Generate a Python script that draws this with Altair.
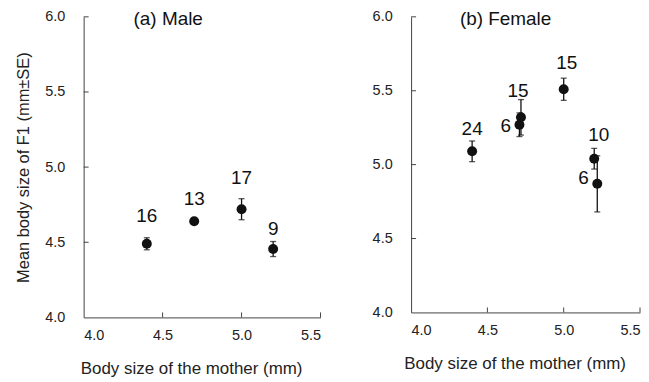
import altair as alt
import pandas as pd

# Male panel data
male_x = [4.4, 4.7, 5.0, 5.2]
male_mean = [4.49, 4.64, 4.72, 4.455]
male_se = [0.04, 0.02, 0.07, 0.05]
male_n = ["16", "13", "17", "9"]
male_lab_x = [4.4, 4.7, 5.0, 5.2]
male_lab_y = [4.675, 4.786, 4.93, 4.59]

# Female panel data
female_x = [4.4, 4.72, 4.71, 5.0, 5.2, 5.22]
female_mean = [5.09, 5.32, 5.27, 5.51, 5.04, 4.87]
female_se = [0.07, 0.12, 0.08, 0.075, 0.07, 0.19]
female_n = ["24", "15", "6", "15", "10", "6"]
female_lab_x = [4.40, 4.70, 4.62, 5.02, 5.23, 5.13]
female_lab_y = [5.24, 5.50, 5.26, 5.69, 5.20, 4.91]

x_ticks = [4.0, 4.5, 5.0, 5.5]
y_ticks = [4.0, 4.5, 5.0, 5.5, 6.0]

FONT = "Liberation Sans"
AX = "#444"


def panel(xs, means, ses, ns, lx, ly, title, tfrac, w, h, show_ytitle):
    df = pd.DataFrame({"x": xs, "m": means, "se": ses})
    df["lo"] = df["m"] - df["se"]
    df["hi"] = df["m"] + df["se"]
    lab = pd.DataFrame({"x": lx, "y": ly, "t": ns})

    xsc = alt.Scale(domain=[4.0, 5.5], nice=False, zero=False)
    ysc = alt.Scale(domain=[4.0, 6.0], nice=False, zero=False)
    xax = alt.Axis(values=x_ticks, format=".1f", tickSize=0, labelPadding=11,
                   title="Body size of the mother (mm)", titlePadding=19,
                   titleX=w / 2 - 11,
                   grid=False, domainColor=AX, labelColor="#222",
                   titleColor="#222", labelFontSize=14.5, titleFontSize=17,
                   titleFontWeight="normal", labelFont=FONT, titleFont=FONT)
    yax = alt.Axis(values=y_ticks, format=".1f", tickSize=0, labelPadding=19,
                   title="Mean body size of F1 (mm±SE)" if show_ytitle else None,
                   titlePadding=13, grid=False, domainColor=AX,
                   labelColor="#222", titleColor="#222", labelFontSize=14.5,
                   titleFontSize=16.5, titleFontWeight="normal",
                   labelFont=FONT, titleFont=FONT)

    base = alt.Chart(df)
    bars = base.mark_rule(color="#111", strokeWidth=1.3).encode(
        x=alt.X("x:Q", scale=xsc, axis=xax),
        y=alt.Y("lo:Q", scale=ysc, axis=yax),
        y2="hi:Q",
    )
    cap_lo = base.mark_tick(color="#111", orient="horizontal", size=6,
                            thickness=1.3).encode(
        x=alt.X("x:Q", scale=xsc), y=alt.Y("lo:Q", scale=ysc))
    cap_hi = base.mark_tick(color="#111", orient="horizontal", size=6,
                            thickness=1.3).encode(
        x=alt.X("x:Q", scale=xsc), y=alt.Y("hi:Q", scale=ysc))
    pts = base.mark_point(filled=True, shape="circle", size=100, color="#111",
                          opacity=1).encode(
        x=alt.X("x:Q", scale=xsc), y=alt.Y("m:Q", scale=ysc))
    labels = alt.Chart(lab).mark_text(fontSize=19, font=FONT, color="#111",
                                      baseline="middle").encode(
        x=alt.X("x:Q", scale=xsc), y=alt.Y("y:Q", scale=ysc), text="t:N")
    xt = alt.Chart(pd.DataFrame({"v": x_ticks[1:]})).mark_rule(
        color=AX, strokeWidth=1).encode(
        x=alt.X("v:Q", scale=xsc), y=alt.value(h), y2=alt.value(h - 5))
    yt = alt.Chart(pd.DataFrame({"v": y_ticks[1:]})).mark_rule(
        color=AX, strokeWidth=1).encode(
        y=alt.Y("v:Q", scale=ysc), x=alt.value(0), x2=alt.value(5))
    ttl = alt.Chart(pd.DataFrame({"t": [title]})).mark_text(
        fontSize=19, font=FONT, color="#111", align="center",
        baseline="middle").encode(
        text="t:N", x=alt.value(w * tfrac), y=alt.value(2))
    return alt.layer(bars, cap_lo, cap_hi, pts, labels, xt, yt, ttl).properties(
        width=w, height=h)


left = panel(male_x, male_mean, male_se, male_n, male_lab_x, male_lab_y,
             "(a) Male", 0.357, 238, 302, True)
right = panel(female_x, female_mean, female_se, female_n, female_lab_x,
              female_lab_y, "(b) Female", 0.413, 230, 297, False)

chart = alt.hconcat(left, right, spacing=50).configure_view(
    stroke=None).properties(padding={"left": 7, "top": 0, "right": 0, "bottom": 0})

chart.save("out.html", embed_options={"renderer": "svg", "actions": False})
